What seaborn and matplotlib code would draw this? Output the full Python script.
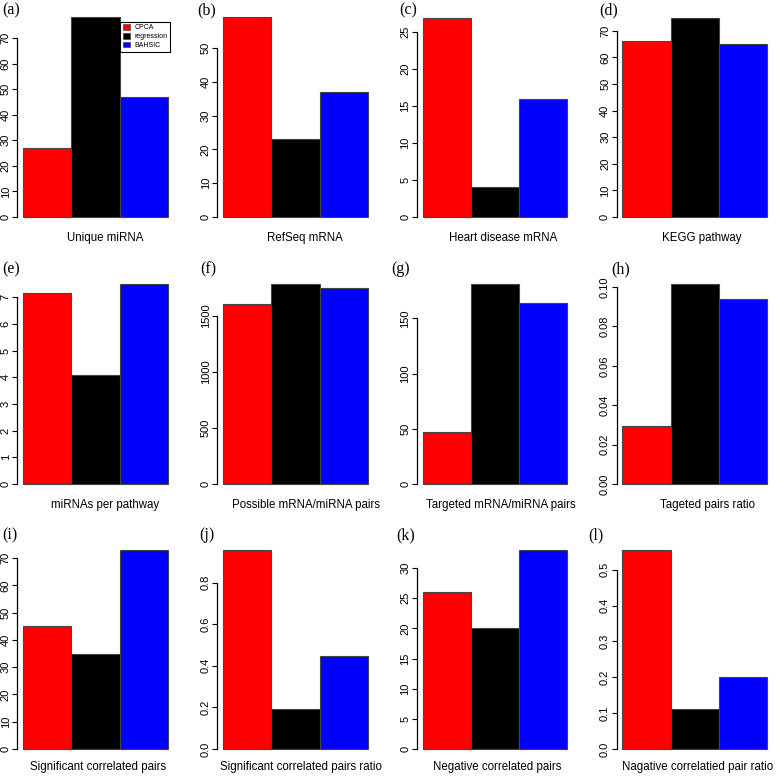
import numpy as np
import matplotlib
matplotlib.use('Agg')
import matplotlib.pyplot as plt
from matplotlib.patches import Patch
import seaborn as sns

# =============================================================================
# Data
# =============================================================================
methods = ['CPCA', 'regression', 'BAHSIC']
colors  = ['#FF0000', '#000000', '#0000FF']

unique_mirna       = [27, 78, 47]
refseq_mrna        = [59, 23, 37]
heart_mrna         = [27, 4, 16]
kegg_pathway       = [66, 75, 65]
mirna_per_pathway  = [7.16, 4.07, 7.5]
possible_pairs     = [1603, 1782, 1746]
targeted_pairs     = [47, 181, 164]
targeted_ratio     = [0.0294, 0.1015, 0.094]
sig_pairs          = [45, 35, 73]
sig_ratio          = [0.957, 0.194, 0.448]
neg_pairs          = [26, 20, 33]
neg_ratio          = [0.555, 0.111, 0.201]

letters = ['(a)', '(b)', '(c)', '(d)', '(e)', '(f)',
           '(g)', '(h)', '(i)', '(j)', '(k)', '(l)']
xlabels = ['Unique miRNA', 'RefSeq mRNA', 'Heart disease mRNA', 'KEGG pathway',
           'miRNAs per pathway', 'Possible mRNA/miRNA pairs',
           'Targeted mRNA/miRNA pairs', 'Tageted pairs ratio',
           'Significant correlated pairs', 'Significant correlated pairs ratio',
           'Negative correlated pairs', 'Nagative correlatied pair ratio']
series  = [unique_mirna, refseq_mrna, heart_mrna, kegg_pathway,
           mirna_per_pathway, possible_pairs, targeted_pairs, targeted_ratio,
           sig_pairs, sig_ratio, neg_pairs, neg_ratio]
yticks  = [
    [0, 10, 20, 30, 40, 50, 60, 70],
    [0, 10, 20, 30, 40, 50],
    [0, 5, 10, 15, 20, 25],
    [0, 10, 20, 30, 40, 50, 60, 70],
    [0, 1, 2, 3, 4, 5, 6, 7],
    [0, 500, 1000, 1500],
    [0, 50, 100, 150],
    [0.00, 0.02, 0.04, 0.06, 0.08, 0.10],
    [0, 10, 20, 30, 40, 50, 60, 70],
    [0.0, 0.2, 0.4, 0.6, 0.8],
    [0, 5, 10, 15, 20, 25, 30],
    [0.0, 0.1, 0.2, 0.3, 0.4, 0.5],
]
ytick_fmt = ['{:.0f}'] * 7 + ['{:.2f}'] + ['{:.0f}', '{:.1f}', '{:.0f}', '{:.1f}']

# =============================================================================
# Layout (pixels)
# =============================================================================
W, H = 778, 776
bar_left = [23, 223, 422.5, 622.3]
bar_w    = 48.3
row_zero = [217, 484, 749]
row_top  = [17.5, 284, 550]
letter_xy = [(2, 2), (197, 2), (399, 2), (599, 2),
             (2, 261), (200, 261), (391, 261), (611, 261),
             (2, 527), (199, 527), (396, 527), (588, 527)]
xlab_x = [105, 305, 503, 702, 105, 306, 501, 707, 98, 301, 497, 698]
xlab_y = [238, 505, 767]

plt.rcParams['font.family'] = ['Liberation Sans', 'DejaVu Sans']
fig = plt.figure(figsize=(W / 100, H / 100), dpi=100)

for i, vals in enumerate(series):
    r, c = divmod(i, 4)
    pad_x = 0.12 * bar_w
    left_px = bar_left[c] - pad_x
    width_px = 3 * bar_w + 2 * pad_x
    span = row_zero[r] - row_top[r]
    bottom_px = row_zero[r] + 0.04 * span
    height_px = span * 1.08
    ax = fig.add_axes([left_px / W, 1 - bottom_px / H,
                       width_px / W, height_px / H])

    sns.barplot(x=methods, y=vals, hue=methods, palette=colors,
                width=1.0, saturation=1, edgecolor='#444444', linewidth=0.8,
                legend=False, ax=ax)

    vmax = max(vals)
    ax.set_xlim(-0.5 - 0.12, 2.5 + 0.12)
    ax.set_ylim(-0.04 * vmax, vmax * 1.04)

    for s in ['top', 'right', 'bottom']:
        ax.spines[s].set_visible(False)
    ax.spines['left'].set_bounds(yticks[i][0], yticks[i][-1])
    ax.spines['left'].set_linewidth(0.9)
    ax.set_xticks([])
    ax.set_yticks(yticks[i])
    ax.set_yticklabels([ytick_fmt[i].format(t) for t in yticks[i]],
                       rotation=90, va='center', fontsize=8)
    ax.tick_params(axis='y', length=3.6, width=0.8, pad=1)
    ax.set_ylabel('')
    ax.set_xlabel(xlabels[i], fontsize=8.3)
    ax.xaxis.set_label_coords((xlab_x[i] - left_px) / width_px,
                              -(xlab_y[r] - bottom_px) / height_px,
                              transform=ax.transAxes)
    ax.xaxis.label.set_va('center')
    ax.patch.set_alpha(0)

    lx, ly = letter_xy[i]
    fig.text(lx / W, 1 - ly / H, letters[i], family='Liberation Serif',
             fontsize=11.5, ha='left', va='top')

    if i == 0:
        handles = [Patch(facecolor=col, edgecolor='#444444', linewidth=0.5)
                   for col in colors]
        leg = ax.legend(handles, methods, loc='upper right',
                        bbox_to_anchor=(1.0, 0.96), fontsize=5,
                        handlelength=1.0, handleheight=0.8, handletextpad=0.6,
                        borderpad=0.4, labelspacing=0.25, fancybox=False,
                        framealpha=1, edgecolor='black')
        leg.get_frame().set_linewidth(0.8)

plt.savefig('out.png', dpi=100)
plt.close()
